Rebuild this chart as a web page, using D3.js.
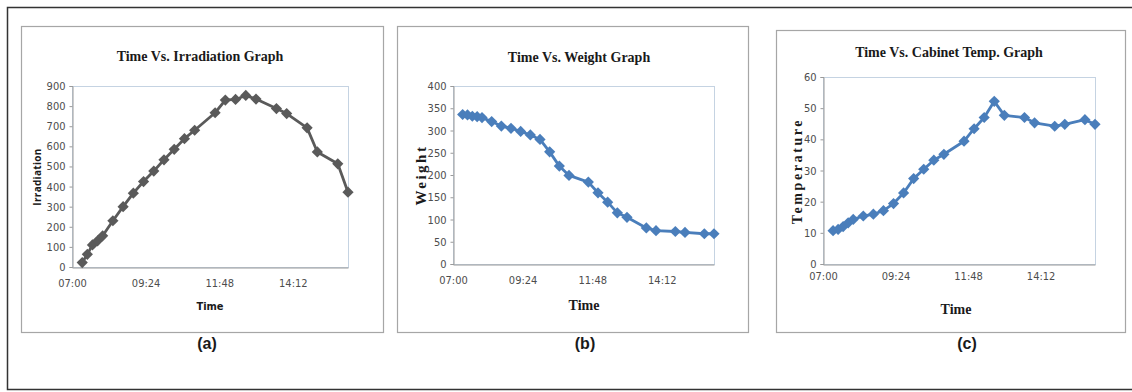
<!DOCTYPE html>
<html>
<head>
<meta charset="utf-8">
<script src="https://cdn.jsdelivr.net/npm/d3@7"></script>
<style>
  html, body { margin: 0; padding: 0; background: #fff; }
  svg { display: block; }
</style>
</head>
<body>
<svg id="fig" width="1132" height="392"></svg>
<script>
// ── Data ───────────────────────────────────
const times = ["07:20","07:30","07:40","07:50","08:00","08:20","08:40","09:00","09:20","09:40",
               "10:00","10:20","10:40","11:00","11:40","12:00","12:20","12:40","13:00","13:40",
               "14:00","14:40","15:00","15:40","16:00"];
const irradiation = [22,63,110,130,155,230,300,367,425,477,533,585,638,680,767,830,833,853,835,788,763,692,572,513,372];
const weight = [336,335,332,331,329,320,310,305,298,290,280,252,220,199,184,160,139,115,105,81,75,73,71,68,68];
const temperature = [10.7,11.1,12.0,13.2,14.3,15.4,16.0,17.1,19.4,22.8,27.4,30.4,33.3,35.2,39.4,43.4,47.0,52.2,47.7,47.0,45.3,44.2,44.8,46.3,44.8];

const timeTicks = ["07:00","09:24","11:48","14:12"];
const timeRange = ["07:00","16:00"];
const irrTicks = [0,100,200,300,400,500,600,700,800,900];
const weightTicks = [0,50,100,150,200,250,300,350,400];
const tempTicks = [0,10,20,30,40,50,60];

const toMin = s => { const [h, m] = s.split(':').map(Number); return h * 60 + m; };

const svg = d3.select('#fig');
const SANS_N = "'Liberation Sans Narrow','Arial Narrow','DejaVu Sans Condensed',sans-serif";
const SERIF = "'Liberation Serif','DejaVu Serif',serif";

// outer frame
svg.append('path').attr('d', 'M1132,7.5 H7.5 V389.5 H1132')
  .attr('fill', 'none').attr('stroke', '#333').attr('stroke-width', 1.5);

// ── Panels ──────────────────────────────
const panels = [
  { box: [21, 26, 362, 306], plot: [72, 86, 276, 181], values: irradiation, ticks: irrTicks,
    color: '#5a5a5a', title: 'Time Vs. Irradiation Graph', titleXY: [200, 61], xPad: 12,
    ylab: 'Irradiation', ylabXY: [41, 177], ylabFont: "bold 10px 'Open Sans',sans-serif", ylabSpacing: 0.3,
    xlab: 'Time', xlabXY: [210, 310], xlabFont: `bold 11px ${SANS_N}`, tag: '(a)', tagX: 207 },
  { box: [397, 26, 351, 306], plot: [453, 86, 261, 178], values: weight, ticks: weightTicks,
    color: '#4a7ebb', title: 'Time Vs. Weight Graph', titleXY: [579, 62], xPad: 12,
    ylab: 'Weight', ylabXY: [426, 175], ylabFont: `bold 15px ${SERIF}`, ylabSpacing: 2.5,
    xlab: 'Time', xlabXY: [584, 310], xlabFont: `bold 14px ${SERIF}`, tag: '(b)', tagX: 585 },
  { box: [776, 30, 349, 302], plot: [823, 77, 272, 187], values: temperature, ticks: tempTicks,
    color: '#4a7ebb', title: 'Time Vs. Cabinet Temp. Graph', titleXY: [949, 57], xPad: 8,
    ylab: 'Temperature', ylabXY: [802, 171], ylabFont: `bold 14px ${SERIF}`, ylabSpacing: 2.6,
    xlab: 'Time', xlabXY: [956, 314], xlabFont: `bold 14px ${SERIF}`, tag: '(c)', tagX: 967 }
];

panels.forEach(p => {
  const [bx, by, bw, bh] = p.box;
  svg.append('rect').attr('x', bx + 0.5).attr('y', by + 0.5).attr('width', bw).attr('height', bh)
    .attr('fill', '#fff').attr('stroke', '#a6a6a6').attr('stroke-width', 1.2);

  const [px, py, pw, ph] = p.plot;
  const x = d3.scaleLinear().domain(timeRange.map(toMin)).range([px, px + pw]);
  const y = d3.scaleLinear().domain([0, d3.max(p.ticks)]).range([py + ph, py]);

  // plot area border
  svg.append('rect').attr('x', px + 0.5).attr('y', py + 0.5).attr('width', pw).attr('height', ph)
    .attr('fill', 'none').attr('stroke', '#c5d3e2').attr('stroke-width', 1);

  // axes
  const gy = svg.append('g').attr('transform', `translate(${px + 0.5},0)`)
    .call(d3.axisLeft(y).tickValues(p.ticks).tickSize(3).tickPadding(4));
  const gx = svg.append('g').attr('transform', `translate(0,${py + ph + 0.5})`)
    .call(d3.axisBottom(x).tickValues(timeTicks.map(toMin)).tickSize(0).tickPadding(p.xPad)
      .tickFormat((d, i) => timeTicks[i]));
  [gx, gy].forEach(g => {
    g.selectAll('path, line').attr('stroke', '#9a9a9a');
    g.selectAll('text').attr('fill', '#4d4d4d').style('font', `11px ${SANS_N}`);
  });

  // series
  const pts = times.map((t, i) => [x(toMin(t)), y(p.values[i])]);
  svg.append('path').datum(pts).attr('d', d3.line())
    .attr('fill', 'none').attr('stroke', p.color).attr('stroke-width', 2.8).attr('stroke-linejoin', 'round');
  svg.append('g').selectAll('path').data(pts).join('path')
    .attr('d', d3.symbol(d3.symbolDiamond2, 80))
    .attr('transform', d => `translate(${d[0]},${d[1]})`)
    .attr('fill', p.color);

  // texts
  svg.append('text').attr('x', p.titleXY[0]).attr('y', p.titleXY[1]).attr('text-anchor', 'middle')
    .style('font', `bold 14px ${SERIF}`).attr('fill', '#1a1a1a').text(p.title);
  svg.append('text').attr('transform', `translate(${p.ylabXY[0]},${p.ylabXY[1]}) rotate(-90)`)
    .attr('text-anchor', 'middle').style('font', p.ylabFont).style('letter-spacing', p.ylabSpacing + 'px')
    .attr('fill', '#1a1a1a').text(p.ylab);
  svg.append('text').attr('x', p.xlabXY[0]).attr('y', p.xlabXY[1]).attr('text-anchor', 'middle')
    .style('font', p.xlabFont).attr('fill', '#1a1a1a').text(p.xlab);
  svg.append('text').attr('x', p.tagX).attr('y', 349).attr('text-anchor', 'middle')
    .style('font', "bold 16px 'Liberation Sans',Arial,sans-serif").attr('fill', '#1a1a1a').text(p.tag);
});
</script>
</body>
</html>
